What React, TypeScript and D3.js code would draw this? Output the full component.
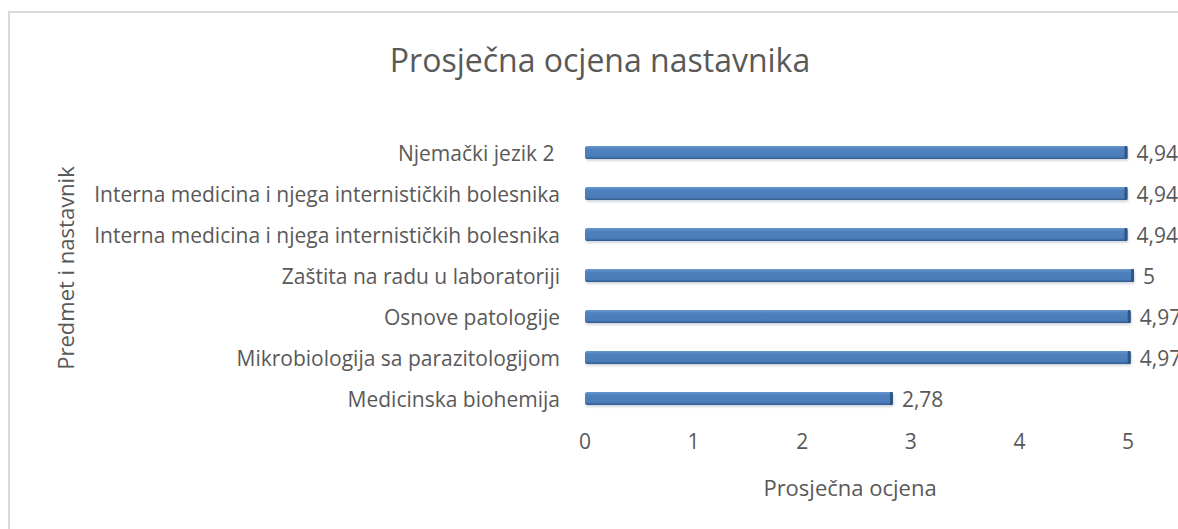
import React from 'react';
import * as d3 from 'd3';

const categories = [
  'Njemački jezik 2 ',
  'Interna medicina i njega internističkih bolesnika',
  'Interna medicina i njega internističkih bolesnika',
  'Zaštita na radu u laboratoriji',
  'Osnove patologije',
  'Mikrobiologija sa parazitologijom',
  'Medicinska biohemija',
];
const values = [4.94, 4.94, 4.94, 5, 4.97, 4.97, 2.78];
const valueLabels = ['4,94', '4,94', '4,94', '5', '4,97', '4,97', '2,78'];
const xTicks = [0, 1, 2, 3, 4, 5];

const W = 1178;
const H = 529;
const FONT = '"Open Sans", "Noto Sans", sans-serif';
const TEXT = '#595959';

export default function App() {
  const x = d3.scaleLinear().domain([0, 5]).range([585, 1128]);
  const y = d3
    .scaleBand()
    .domain(categories.map((_, i) => String(i)))
    .range([132, 419]);
  const barH = 13;

  return (
    <svg
      width={W}
      height={H}
      style={{ position: 'absolute', left: 0, top: 0, background: '#fff' }}
      fontFamily={FONT}
    >
      <defs>
        <linearGradient id="face" x1="0" y1="0" x2="0" y2="1">
          <stop offset="0" stopColor="#6a96cf" />
          <stop offset="0.25" stopColor="#4f81bd" />
          <stop offset="0.8" stopColor="#4a7cb9" />
          <stop offset="1" stopColor="#34598a" />
        </linearGradient>
        <filter id="blur" x="-5%" y="-50%" width="110%" height="200%">
          <feGaussianBlur stdDeviation="1.2" />
        </filter>
      </defs>

      {/* chart frame, runs off the right and bottom */}
      <rect x={9} y={12} width={W + 20} height={H + 20} fill="#fff" stroke="#d9d9d9" strokeWidth={2} />

      <text x={600} y={72} textAnchor="middle" fontSize={32} fill={TEXT}>
        Prosječna ocjena nastavnika
      </text>

      {categories.map((c, i) => {
        const cy = (y(String(i)) as number) + y.bandwidth() / 2;
        const x0 = x(0);
        const x1 = x(values[i]) + 6;
        return (
          <g key={i}>
            <rect
              x={x0 + 1}
              y={cy - barH / 2 + 2}
              width={x1 - x0}
              height={barH}
              rx={2}
              fill="#9aa7b8"
              opacity={0.45}
              filter="url(#blur)"
            />
            <rect x={x0} y={cy - barH / 2} width={x1 - x0} height={barH} rx={2} fill="url(#face)" />
            <rect x={x1 - 3} y={cy - barH / 2} width={3} height={barH} rx={1} fill="#2f5684" />
            <text
              x={560}
              y={cy + 1}
              dy="0.35em"
              textAnchor="end"
              fontSize={21}
              fill={TEXT}
              style={{ whiteSpace: 'pre' }}
            >
              {c}
            </text>
            <text x={x1 + 9} y={cy + 1} dy="0.35em" fontSize={21} fill={TEXT}>
              {valueLabels[i]}
            </text>
          </g>
        );
      })}

      {xTicks.map((t) => (
        <text key={t} x={x(t)} y={449} textAnchor="middle" fontSize={21} fill={TEXT}>
          {t}
        </text>
      ))}

      <text x={850} y={496} textAnchor="middle" fontSize={22} fill={TEXT}>
        Prosječna ocjena
      </text>
      <text
        transform="translate(74,268) rotate(-90)"
        textAnchor="middle"
        fontSize={22}
        fill={TEXT}
      >
        Predmet i nastavnik
      </text>
    </svg>
  );
}
